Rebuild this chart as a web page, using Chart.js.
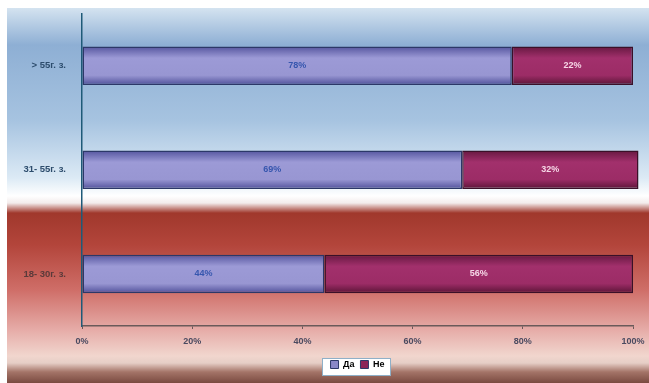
<!DOCTYPE html>
<html>
<head>
<meta charset="utf-8">
<script src="https://cdn.jsdelivr.net/npm/chart.js@4.4.0/dist/chart.umd.min.js"></script>
<style>
  html, body { margin: 0; padding: 0; background: #ffffff; }
  #wrap { width: 649px; height: 383px; }
</style>
</head>
<body>
<div id="wrap"><canvas id="chartVazrast" width="649" height="383"></canvas></div>
<script>
// Възрастови групи и отговори (%)
const groups = ['> 55г. з.', '31- 55г. з.', '18- 30г. з.'];
const da = [78, 69, 44];
const ne = [22, 32, 56];
const xTicks = [0, 20, 40, 60, 80, 100];

// фон - синьо горе, червено долу
const fonPlugin = {
  id: 'fon',
  beforeDraw(chart) {
    const c = chart.ctx;
    const g = c.createLinearGradient(0, 8, 0, 383);
    const stops = [
      [8, '#d4e3f0'], [45, '#8eafd4'], [120, '#a6c3e0'], [178, '#dceaf5'],
      [196, '#ffffff'], [203, '#f3ecec'], [213, '#a0382c'], [245, '#b3453b'],
      [290, '#cf6e68'], [330, '#e6aca8'], [356, '#f1d6ce'], [363, '#e6cec6'],
      [372, '#a47468'], [383, '#7a4a40']
    ];
    stops.forEach(s => g.addColorStop((s[0] - 8) / 375, s[1]));
    c.save();
    c.fillStyle = g;
    c.fillRect(7, 8, chart.width - 7, chart.height - 8);
    // бяла кутия на легендата
    const l = chart.legend;
    if (l && l.legendItems) {
      const w = 68, h = 17;
      const cx = (chart.chartArea.left + chart.chartArea.right) / 2 - 2;
      const ty = Math.round(l.top + (l.height - h) / 2);
      c.fillStyle = '#ffffff';
      c.strokeStyle = '#8fb0c8';
      c.lineWidth = 1;
      c.fillRect(Math.round(cx - w / 2), ty, w, h);
      c.strokeRect(Math.round(cx - w / 2) + 0.5, ty + 0.5, w, h);
    }
    c.restore();
  }
};

// градиент на стълбовете
const barGradPlugin = {
  id: 'barGrad',
  beforeDatasetsDraw(chart) {
    const c = chart.ctx;
    const cols = [
      ['#55559e', '#9c9ad6', '#9896d2', '#50509a'],
      ['#661840', '#a2306c', '#9c2c66', '#5a1436']
    ];
    chart.data.datasets.forEach((ds, i) => {
      chart.getDatasetMeta(i).data.forEach(bar => {
        const top = bar.y - bar.height / 2, bot = bar.y + bar.height / 2;
        const g = c.createLinearGradient(0, top, 0, bot);
        g.addColorStop(0, cols[i][0]);
        g.addColorStop(0.3, cols[i][1]);
        g.addColorStop(0.75, cols[i][2]);
        g.addColorStop(1, cols[i][3]);
        bar.options = Object.assign({}, bar.options, { backgroundColor: g });
      });
    });
  }
};

// стойности в стълбовете
const etiketiPlugin = {
  id: 'etiketi',
  afterDatasetsDraw(chart) {
    const c = chart.ctx;
    c.save();
    c.font = 'bold 9px "Liberation Sans", Arial, sans-serif';
    c.textAlign = 'center';
    c.textBaseline = 'middle';
    chart.data.datasets.forEach((ds, i) => {
      c.fillStyle = i === 0 ? '#3656ae' : '#f6d6e6';
      chart.getDatasetMeta(i).data.forEach((bar, j) => {
        const x = (bar.x + bar.base) / 2;
        c.fillText(ds.data[j] + '%', x, bar.y);
      });
    });
    c.restore();
  }
};

const ctx = document.getElementById('chartVazrast').getContext('2d');
const chartVazrast = new Chart(ctx, {
  type: 'bar',
  data: {
    labels: groups,
    datasets: [
      { label: 'Да', data: da, backgroundColor: '#9896d2', borderColor: '#2c3868', borderWidth: 1.5, borderSkipped: false, clip: false },
      { label: 'Не', data: ne, backgroundColor: '#9c2c66', borderColor: '#3a1028', borderWidth: 1.5, borderSkipped: false, clip: false }
    ]
  },
  options: {
    indexAxis: 'y',
    responsive: false,
    animation: false,
    layout: { padding: { left: 8, top: 7, right: 16, bottom: 4 } },
    datasets: { bar: { categoryPercentage: 1, barPercentage: 0.37 } },
    scales: {
      x: {
        stacked: true,
        min: 0, max: 100,
        afterBuildTicks(s) { s.ticks = xTicks.map(v => ({ value: v })); },
        ticks: {
          callback: v => v + '%',
          color: '#4a4a60',
          font: { family: '"Liberation Sans", Arial, sans-serif', size: 9, weight: 'bold' },
          padding: 7,
          maxRotation: 0
        },
        grid: { display: true, drawOnChartArea: false, tickLength: 3, color: '#6a5a5a' },
        border: { color: '#6a5a5a', width: 1.5 },
        afterFit(s) { s.height = 28; s.paddingLeft = 0; s.paddingRight = 0; }
      },
      y: {
        stacked: true,
        ticks: {
          color: (c) => c.index === 2 ? '#5a3a3a' : '#2c4c6c',
          font: { family: '"Liberation Sans", Arial, sans-serif', size: 9.5, weight: 'bold' },
          padding: 8
        },
        grid: { display: false },
        border: { color: '#1e5a78', width: 1.5 },
        afterFit(s) { s.width = 74; }
      }
    },
    plugins: {
      legend: {
        position: 'bottom',
        fullSize: false,
        labels: {
          boxWidth: 8, boxHeight: 8,
          padding: 6,
          color: '#2c4c8c',
          font: { family: '"Liberation Sans", Arial, sans-serif', size: 9, weight: 'bold' },
          generateLabels: chart => chart.data.datasets.map((ds, i) => ({
            text: ds.label,
            fillStyle: i === 0 ? '#8a88c8' : '#8c2458',
            strokeStyle: '#2c3868',
            lineWidth: 1,
            datasetIndex: i
          }))
        }
      },
      tooltip: { enabled: false }
    }
  },
  plugins: [fonPlugin, barGradPlugin, etiketiPlugin]
});
</script>
</body>
</html>
